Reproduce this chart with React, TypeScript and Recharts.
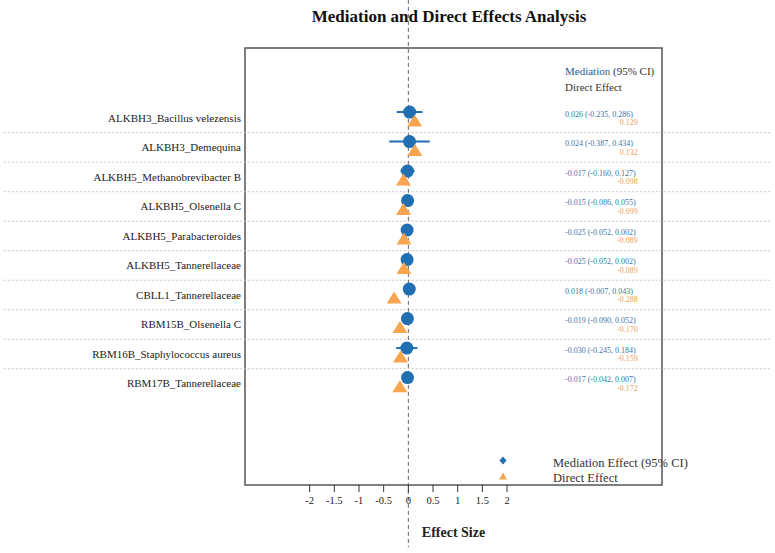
import { ComposedChart, Scatter, XAxis, YAxis, ErrorBar, ReferenceLine, ReferenceArea } from "recharts"

const pairs = [
  "ALKBH3_Bacillus velezensis",
  "ALKBH3_Demequina",
  "ALKBH5_Methanobrevibacter B",
  "ALKBH5_Olsenella C",
  "ALKBH5_Parabacteroides",
  "ALKBH5_Tannerellaceae",
  "CBLL1_Tannerellaceae",
  "RBM15B_Olsenella C",
  "RBM16B_Staphylococcus aureus",
  "RBM17B_Tannerellaceae",
]
const mediation = [0.026, 0.024, -0.017, -0.015, -0.025, -0.025, 0.018, -0.019, -0.03, -0.017]
const ciLow = [-0.235, -0.387, -0.16, -0.086, -0.052, -0.052, -0.007, -0.09, -0.245, -0.042]
const ciHigh = [0.286, 0.434, 0.127, 0.055, 0.002, 0.002, 0.043, 0.052, 0.184, 0.007]
const direct = [0.129, 0.132, -0.098, -0.099, -0.089, -0.089, -0.288, -0.17, -0.159, -0.172]
const xTicks = [-2, -1.5, -1, -0.5, 0, 0.5, 1, 1.5, 2]

const BLUE = "#1f6fb2"
const ORANGE = "#f9a44e"
const TEXT_BLUE = "#3f74a6"
const TEXT_ORANGE = "#eea055"
const SERIF = "Liberation Serif, Times New Roman, serif"

const X_DOMAIN: [number, number] = [-3.31, 5.14]
const Y_DOMAIN: [number, number] = [-2.37, 12.44]
const TEXT_LEFT = 3.175
const TEXT_RIGHT = 4.65

const fmt = (v: number) => v.toFixed(3)

const medRows = pairs.map((_, i) => ({
  x: mediation[i],
  y: i - 0.2,
  err: [mediation[i] - ciLow[i], ciHigh[i] - mediation[i]],
}))
const directRows = pairs.map((_, i) => ({ x: direct[i], y: i + 0.14 }))
const medText = pairs.map((_, i) => ({
  x: TEXT_LEFT,
  y: i - 0.12,
  label: `${fmt(mediation[i])} (${fmt(ciLow[i])}, ${fmt(ciHigh[i])})`,
}))
const directText = pairs.map((_, i) => ({ x: TEXT_RIGHT, y: i + 0.16, label: fmt(direct[i]) }))

const Dot = (p: any) => <circle cx={p.cx} cy={p.cy} r={6.5} fill={BLUE} />
const Tri = (p: any) => {
  const s = 7.5
  return (
    <path
      d={`M${p.cx},${p.cy - s} L${p.cx + s},${p.cy + s * 0.6} L${p.cx - s},${p.cy + s * 0.6} Z`}
      fill={ORANGE}
    />
  )
}
const textShape = (anchor: "start" | "end", color: string) => (p: any) => (
  <text
    x={p.cx}
    y={p.cy}
    textAnchor={anchor}
    dominantBaseline="central"
    fontSize={8}
    fontFamily={SERIF}
    fill={color}
  >
    {p.payload.label}
  </text>
)

export default function App() {
  return (
    <div style={{ position: "absolute", left: 0, top: 0, width: 775, height: 553, background: "#fff" }}>
      <ComposedChart
        width={775}
        height={553}
        margin={{ top: 48, right: 113, bottom: 0, left: 0 }}
        style={{ position: "absolute", left: 0, top: 0 }}
      >
        <XAxis
          type="number"
          dataKey="x"
          domain={X_DOMAIN}
          allowDataOverflow
          ticks={xTicks}
          interval={0}
          height={68}
          axisLine={false}
          tickSize={7}
          tickMargin={5}
          tickLine={{ stroke: "#333" }}
          tick={{ fill: "#222", fontSize: 10.5, fontFamily: SERIF }}
          label={{
            value: "Effect Size",
            position: "insideBottom",
            offset: 16,
            style: { fontFamily: SERIF, fontSize: 14, fontWeight: "bold", fill: "#222" },
          }}
        />
        <YAxis
          type="number"
          dataKey="y"
          domain={Y_DOMAIN}
          allowDataOverflow
          reversed
          width={245}
          ticks={pairs.map((_, i) => i)}
          interval={0}
          tickFormatter={(v: number) => pairs[v] ?? ""}
          axisLine={false}
          tickLine={false}
          tickSize={0}
          tickMargin={4}
          tick={{ fill: "#222", fontSize: 11, fontFamily: SERIF }}
        />
        {pairs.slice(1).map((_, i) => (
          <ReferenceLine
            key={i}
            ifOverflow="visible"
            segment={[{ x: -8.2, y: i + 0.5 }, { x: 7.35, y: i + 0.5 }]}
            stroke="#c4c4c4"
            strokeDasharray="2 2"
          />
        ))}
        <ReferenceArea
          x1={X_DOMAIN[0]}
          x2={X_DOMAIN[1]}
          y1={Y_DOMAIN[0]}
          y2={Y_DOMAIN[1]}
          fill="none"
          fillOpacity={0}
          stroke="#555"
          strokeWidth={1.5}
          ifOverflow="visible"
        />
        <ReferenceLine
          ifOverflow="visible"
          segment={[{ x: 0, y: -4 }, { x: 0, y: 14.55 }]}
          stroke="#666"
          strokeDasharray="4 3"
        />
        <Scatter data={medRows} shape={Dot} isAnimationActive={false}>
          <ErrorBar dataKey="err" direction="x" width={0} stroke={BLUE} strokeWidth={2} isAnimationActive={false} />
        </Scatter>
        <Scatter data={directRows} shape={Tri} isAnimationActive={false} />
        <Scatter data={medText} shape={textShape("start", TEXT_BLUE)} isAnimationActive={false} />
        <Scatter data={directText} shape={textShape("end", TEXT_ORANGE)} isAnimationActive={false} />
      </ComposedChart>
      {/* title, annotation header and legend */}
      <svg width={775} height={553} style={{ position: "absolute", left: 0, top: 0, pointerEvents: "none" }}>
        <text x={449} y={16} textAnchor="middle" dominantBaseline="central" fontSize={17} fontWeight="bold" fontFamily={SERIF} fill="#111">
          Mediation and Direct Effects Analysis
        </text>
        <text x={565} y={71} dominantBaseline="central" fontSize={11} fontFamily={SERIF} fill="#333">
          <tspan fill="#2c5d8c">Mediation</tspan> (95% CI)
        </text>
        <text x={565} y={87} dominantBaseline="central" fontSize={11} fontFamily={SERIF} fill="#333">
          Direct Effect
        </text>
        <path d="M503,456.5 L506.5,460.5 L503,464.5 L499.5,460.5 Z" fill={BLUE} />
        <path d="M503,472.5 L507,479.5 L499,479.5 Z" fill={ORANGE} />
        <text x={553} y={462.5} dominantBaseline="central" fontSize={12.5} fontFamily={SERIF} fill="#333">
          Mediation Effect (95% CI)
        </text>
        <text x={553} y={478} dominantBaseline="central" fontSize={12.5} fontFamily={SERIF} fill="#333">
          Direct Effect
        </text>
      </svg>
    </div>
  )
}
